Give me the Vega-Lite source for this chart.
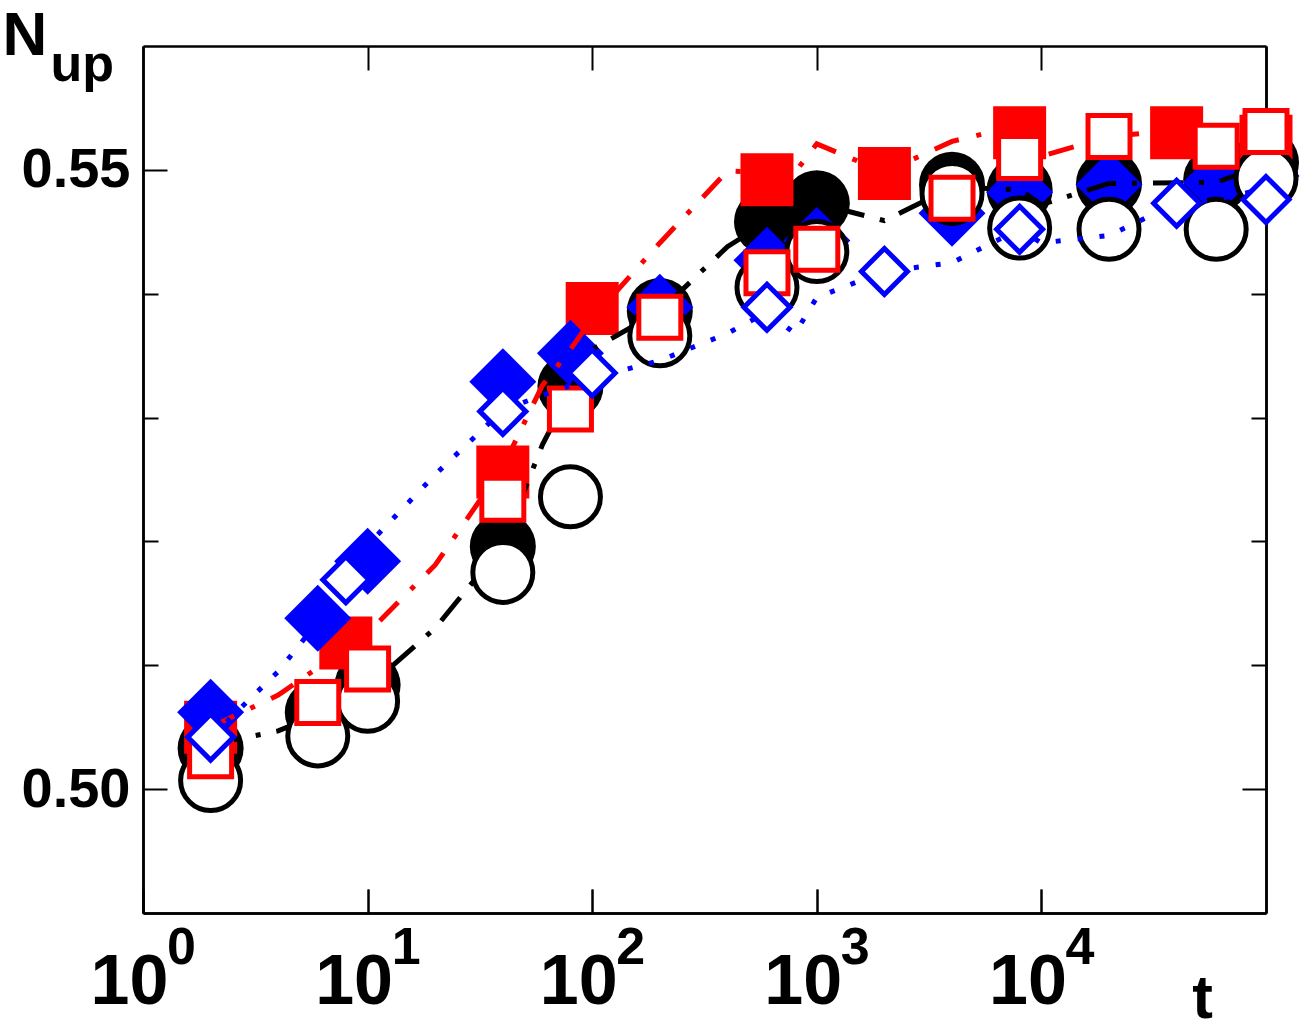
{
  "$schema": "https://vega.github.io/schema/vega-lite/v6.json",
  "width": 1123,
  "height": 867,
  "autosize": {"type": "none"},
  "padding": {"left": 143, "top": 46, "right": 38, "bottom": 116},
  "background": "white",
  "config": {
    "font": "Liberation Sans",
    "view": {"stroke": null},
    "axis": {
      "grid": false,
      "domain": true,
      "domainColor": "black",
      "domainWidth": 2.5,
      "tickColor": "black",
      "tickWidth": 2,
      "labelFont": "Liberation Sans",
      "labelFontWeight": "bold",
      "labelColor": "black",
      "titleFont": "Liberation Sans",
      "titleFontWeight": "bold",
      "titleColor": "black",
      "labelOverlap": false,
      "labelFlush": false,
      "zindex": 1
    }
  },
  "datasets": {
    "blackFilled": [
      {"t": 2, "N": 0.5033}, {"t": 6, "N": 0.5062}, {"t": 10, "N": 0.5084},
      {"t": 40, "N": 0.5196}, {"t": 80, "N": 0.5325}, {"t": 200, "N": 0.5386},
      {"t": 600, "N": 0.5458}, {"t": 1000, "N": 0.5473}, {"t": 4000, "N": 0.5488},
      {"t": 8000, "N": 0.5484}, {"t": 20000, "N": 0.5489}, {"t": 60000, "N": 0.5492},
      {"t": 100000, "N": 0.5506}
    ],
    "blackOpen": [
      {"t": 2, "N": 0.5007}, {"t": 6, "N": 0.5043}, {"t": 10, "N": 0.5071},
      {"t": 40, "N": 0.5175}, {"t": 80, "N": 0.5236}, {"t": 200, "N": 0.5366},
      {"t": 600, "N": 0.5405}, {"t": 1000, "N": 0.5434}, {"t": 4000, "N": 0.5481},
      {"t": 8000, "N": 0.5453}, {"t": 20000, "N": 0.5452}, {"t": 60000, "N": 0.5452},
      {"t": 100000, "N": 0.5493}
    ],
    "blueFilled": [
      {"t": 2, "N": 0.5062}, {"t": 6, "N": 0.5138}, {"t": 10, "N": 0.5184},
      {"t": 40, "N": 0.5329}, {"t": 80, "N": 0.5352}, {"t": 200, "N": 0.5389},
      {"t": 600, "N": 0.5427}, {"t": 1000, "N": 0.5443}, {"t": 4000, "N": 0.5465},
      {"t": 8000, "N": 0.5482}, {"t": 20000, "N": 0.5488}, {"t": 60000, "N": 0.5490},
      {"t": 100000, "N": 0.5495}
    ],
    "blueOpen": [
      {"t": 2, "N": 0.5042}, {"t": 8, "N": 0.5169}, {"t": 40, "N": 0.5305},
      {"t": 100, "N": 0.5336}, {"t": 600, "N": 0.5389}, {"t": 2000, "N": 0.5418},
      {"t": 8000, "N": 0.5452}, {"t": 40000, "N": 0.5473}, {"t": 100000, "N": 0.5476}
    ],
    "redFilled": [
      {"t": 2, "N": 0.5050}, {"t": 8, "N": 0.5118}, {"t": 40, "N": 0.5256},
      {"t": 100, "N": 0.5388}, {"t": 600, "N": 0.5492}, {"t": 2000, "N": 0.5497},
      {"t": 8000, "N": 0.5530}, {"t": 40000, "N": 0.5530}, {"t": 100000, "N": 0.5523}
    ],
    "redOpen": [
      {"t": 2, "N": 0.5027}, {"t": 6, "N": 0.5070}, {"t": 10, "N": 0.5097},
      {"t": 40, "N": 0.5234}, {"t": 80, "N": 0.5307}, {"t": 200, "N": 0.5381},
      {"t": 600, "N": 0.5417}, {"t": 1000, "N": 0.5436}, {"t": 4000, "N": 0.5477},
      {"t": 8000, "N": 0.5510}, {"t": 20000, "N": 0.5527}, {"t": 60000, "N": 0.5519},
      {"t": 100000, "N": 0.5531}
    ],
    "blackLine": [
      {"t": 2, "N": 0.5036}, {"t": 4, "N": 0.5047}, {"t": 6, "N": 0.5060},
      {"t": 10, "N": 0.5082}, {"t": 20, "N": 0.5130}, {"t": 40, "N": 0.5197},
      {"t": 60, "N": 0.5278}, {"t": 80, "N": 0.5322}, {"t": 100, "N": 0.5355},
      {"t": 200, "N": 0.5386}, {"t": 400, "N": 0.5438}, {"t": 600, "N": 0.5458},
      {"t": 1000, "N": 0.5473}, {"t": 2000, "N": 0.5459}, {"t": 4000, "N": 0.5486},
      {"t": 8000, "N": 0.5484}, {"t": 10000, "N": 0.5472}, {"t": 20000, "N": 0.5489},
      {"t": 60000, "N": 0.5490}, {"t": 100000, "N": 0.5504}
    ],
    "redLine": [
      {"t": 2, "N": 0.5050}, {"t": 4, "N": 0.5076}, {"t": 6, "N": 0.5098},
      {"t": 8, "N": 0.5114}, {"t": 10, "N": 0.5126}, {"t": 20, "N": 0.5181},
      {"t": 40, "N": 0.5260}, {"t": 60, "N": 0.5326}, {"t": 80, "N": 0.5355},
      {"t": 100, "N": 0.5380}, {"t": 200, "N": 0.5441}, {"t": 400, "N": 0.5499},
      {"t": 600, "N": 0.5498}, {"t": 800, "N": 0.5498}, {"t": 1000, "N": 0.5521},
      {"t": 2000, "N": 0.5498}, {"t": 4000, "N": 0.5523}, {"t": 8000, "N": 0.5536},
      {"t": 10000, "N": 0.5511}, {"t": 20000, "N": 0.5527}, {"t": 40000, "N": 0.5532},
      {"t": 60000, "N": 0.5527}, {"t": 100000, "N": 0.5531}
    ],
    "blueLine": [
      {"t": 2, "N": 0.5042}, {"t": 4, "N": 0.5095}, {"t": 6, "N": 0.5135},
      {"t": 10, "N": 0.5197}, {"t": 20, "N": 0.5254}, {"t": 40, "N": 0.5306},
      {"t": 60, "N": 0.5318}, {"t": 100, "N": 0.5332}, {"t": 200, "N": 0.5346},
      {"t": 400, "N": 0.5368}, {"t": 600, "N": 0.5385}, {"t": 800, "N": 0.5368},
      {"t": 1000, "N": 0.5397}, {"t": 2000, "N": 0.5418}, {"t": 4000, "N": 0.5425},
      {"t": 8000, "N": 0.5452}, {"t": 10000, "N": 0.5441}, {"t": 20000, "N": 0.5447},
      {"t": 40000, "N": 0.5473}, {"t": 60000, "N": 0.5476}, {"t": 100000, "N": 0.5485}
    ]
  },
  "resolve": {"axis": {"x": "independent", "y": "independent"}},
  "layer": [
    {
      "data": {"name": "blackFilled"},
      "mark": {"type": "point", "shape": "circle", "filled": true, "color": "black", "size": 4356, "opacity": 1, "strokeWidth": 0},
      "encoding": {
        "x": {
          "field": "t", "type": "quantitative",
          "scale": {"type": "log", "domain": [1, 100000], "nice": false},
          "axis": {
            "orient": "bottom", "values": [1, 10, 100, 1000, 10000],
            "tickSize": -24, "labelExpr": "'10'", "labelFontSize": 70,
            "labelBaseline": "alphabetic", "labelPadding": 114, "labelOffset": -14,
            "title": "t", "titleFontSize": 62, "titleAngle": 0,
            "titleX": 1059, "titleY": 104, "titleAlign": "center", "titleBaseline": "alphabetic"
          }
        },
        "y": {
          "field": "N", "type": "quantitative",
          "scale": {"domain": [0.49, 0.56], "zero": false, "nice": false},
          "axis": {
            "orient": "left", "values": [0.5, 0.55], "format": ".2f",
            "tickSize": -24, "labelFontSize": 56, "labelPadding": 37,
            "title": "N", "titleFontSize": 62, "titleAngle": 0,
            "titleX": -141, "titleY": 8, "titleAlign": "left", "titleBaseline": "alphabetic"
          }
        }
      }
    },
    {
      "data": {"name": "redFilled"},
      "mark": {"type": "point", "shape": "square", "filled": true, "color": "#ff0000", "size": 2809, "opacity": 1, "strokeWidth": 0},
      "encoding": {
        "x": {
          "field": "t", "type": "quantitative",
          "scale": {"type": "log", "domain": [1, 100000], "nice": false},
          "axis": {
            "orient": "bottom", "values": [1, 10, 100, 1000, 10000],
            "tickSize": -24, "labelExpr": "'' + round(log(datum.value) / LN10)",
            "labelFontSize": 52, "labelBaseline": "alphabetic",
            "labelPadding": 74, "labelOffset": 38, "title": null
          }
        },
        "y": {
          "field": "N", "type": "quantitative",
          "scale": {"domain": [0.49, 0.56], "zero": false, "nice": false},
          "axis": {
            "orient": "left", "values": [0.51, 0.52, 0.53, 0.54],
            "tickSize": -15, "labels": false,
            "title": "up", "titleFontSize": 52, "titleAngle": 0,
            "titleX": -93, "titleY": 34, "titleAlign": "left", "titleBaseline": "alphabetic"
          }
        }
      }
    },
    {
      "data": {"name": "blueFilled"},
      "mark": {"type": "point", "shape": "diamond", "filled": true, "color": "#0000ff", "size": 4489, "opacity": 1, "strokeWidth": 0},
      "encoding": {
        "x": {
          "field": "t", "type": "quantitative",
          "scale": {"type": "log", "domain": [1, 100000], "nice": false},
          "axis": {"orient": "top", "values": [10, 100, 1000, 10000], "tickSize": -24, "labels": false, "title": null}
        },
        "y": {
          "field": "N", "type": "quantitative",
          "scale": {"domain": [0.49, 0.56], "zero": false, "nice": false},
          "axis": {"orient": "right", "values": [0.5, 0.55], "tickSize": -24, "labels": false, "title": null}
        }
      }
    },
    {
      "data": {"name": "blackLine"},
      "mark": {"type": "line", "color": "black", "strokeWidth": 5, "strokeDash": [30, 16, 5, 16]},
      "encoding": {
        "x": {"field": "t", "type": "quantitative", "scale": {"type": "log", "domain": [1, 100000], "nice": false}, "axis": null},
        "y": {
          "field": "N", "type": "quantitative",
          "scale": {"domain": [0.49, 0.56], "zero": false, "nice": false},
          "axis": {"orient": "right", "values": [0.51, 0.52, 0.53, 0.54], "tickSize": -15, "labels": false, "title": null}
        }
      }
    },
    {
      "data": {"name": "redLine"},
      "mark": {"type": "line", "color": "#ff0000", "strokeWidth": 5, "strokeDash": [26, 18, 5, 18]},
      "encoding": {
        "x": {"field": "t", "type": "quantitative", "scale": {"type": "log", "domain": [1, 100000], "nice": false}, "axis": null},
        "y": {"field": "N", "type": "quantitative", "scale": {"domain": [0.49, 0.56], "zero": false, "nice": false}, "axis": null}
      }
    },
    {
      "data": {"name": "blackOpen"},
      "mark": {"type": "point", "shape": "circle", "fill": "white", "stroke": "black", "strokeWidth": 5, "size": 3600, "opacity": 1},
      "encoding": {
        "x": {"field": "t", "type": "quantitative", "scale": {"type": "log", "domain": [1, 100000], "nice": false}, "axis": null},
        "y": {"field": "N", "type": "quantitative", "scale": {"domain": [0.49, 0.56], "zero": false, "nice": false}, "axis": null}
      }
    },
    {
      "data": {"name": "redOpen"},
      "mark": {"type": "point", "shape": "square", "fill": "white", "stroke": "#ff0000", "strokeWidth": 5, "size": 1764, "opacity": 1},
      "encoding": {
        "x": {"field": "t", "type": "quantitative", "scale": {"type": "log", "domain": [1, 100000], "nice": false}, "axis": null},
        "y": {"field": "N", "type": "quantitative", "scale": {"domain": [0.49, 0.56], "zero": false, "nice": false}, "axis": null}
      }
    },
    {
      "data": {"name": "blueLine"},
      "mark": {"type": "line", "color": "#0000ff", "strokeWidth": 5, "strokeDash": [5, 17]},
      "encoding": {
        "x": {"field": "t", "type": "quantitative", "scale": {"type": "log", "domain": [1, 100000], "nice": false}, "axis": null},
        "y": {"field": "N", "type": "quantitative", "scale": {"domain": [0.49, 0.56], "zero": false, "nice": false}, "axis": null}
      }
    },
    {
      "data": {"name": "blueOpen"},
      "mark": {"type": "point", "shape": "diamond", "fill": "white", "stroke": "#0000ff", "strokeWidth": 5, "size": 2116, "opacity": 1},
      "encoding": {
        "x": {"field": "t", "type": "quantitative", "scale": {"type": "log", "domain": [1, 100000], "nice": false}, "axis": null},
        "y": {"field": "N", "type": "quantitative", "scale": {"domain": [0.49, 0.56], "zero": false, "nice": false}, "axis": null}
      }
    }
  ]
}
